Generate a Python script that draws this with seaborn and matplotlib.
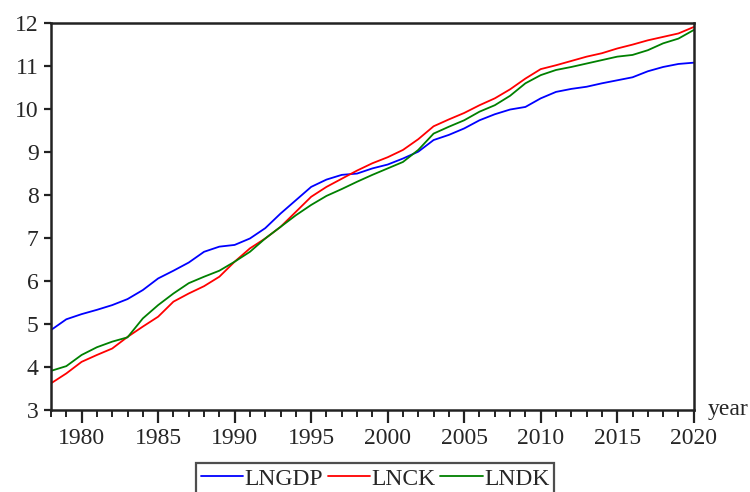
import numpy as np
import pandas as pd
import matplotlib
matplotlib.use("Agg")
import matplotlib.pyplot as plt
import seaborn as sns

years = list(range(1978, 2021))

lngdp = [4.86, 5.11, 5.23, 5.33, 5.44, 5.58, 5.79, 6.06, 6.24, 6.43,
         6.68, 6.80, 6.84, 6.99, 7.23, 7.57, 7.88, 8.19, 8.36, 8.47,
         8.50, 8.62, 8.71, 8.85, 9.01, 9.28, 9.40, 9.55, 9.74, 9.88,
         9.99, 10.05, 10.25, 10.40, 10.47, 10.52, 10.60, 10.67, 10.74, 10.88,
         10.98, 11.05, 11.08]
lnck = [3.62, 3.85, 4.12, 4.28, 4.43, 4.70, 4.94, 5.17, 5.52, 5.71,
        5.88, 6.10, 6.45, 6.76, 6.99, 7.26, 7.61, 7.96, 8.19, 8.38,
        8.57, 8.74, 8.88, 9.05, 9.30, 9.60, 9.76, 9.91, 10.09, 10.25,
        10.46, 10.71, 10.93, 11.02, 11.12, 11.22, 11.30, 11.41, 11.50, 11.60,
        11.68, 11.76, 11.91]
lndk = [3.91, 4.02, 4.28, 4.46, 4.59, 4.69, 5.13, 5.44, 5.71, 5.95,
        6.10, 6.24, 6.45, 6.68, 6.99, 7.26, 7.53, 7.77, 7.98, 8.14,
        8.31, 8.47, 8.62, 8.77, 9.05, 9.43, 9.59, 9.74, 9.94, 10.09,
        10.31, 10.60, 10.79, 10.91, 10.98, 11.06, 11.14, 11.22, 11.26, 11.37,
        11.53, 11.64, 11.84]

series_names = ["LNGDP", "LNCK", "LNDK"]
colors = ["#0000ff", "#ff0000", "#008000"]

df = pd.DataFrame({"year": years, "LNGDP": lngdp, "LNCK": lnck, "LNDK": lndk})
long_df = df.melt(id_vars="year", var_name="series", value_name="value")

sns.set_style("ticks")
plt.rcParams["font.family"] = ["Liberation Serif", "DejaVu Serif"]

fig = plt.figure(figsize=(7.5, 4.92), dpi=100)
ax = fig.add_axes([0.068, 0.1667, 0.857, 0.7863])

sns.lineplot(data=long_df, x="year", y="value", hue="series",
             hue_order=series_names, palette=colors, linewidth=1.3, ax=ax)

ax.set_xlim(1978, 2020)
ax.set_ylim(3, 12)
ax.set_xticks(range(1980, 2021, 5))
ax.set_xticks(range(1978, 2021), minor=True)
ax.set_yticks(range(3, 13))
ax.tick_params(axis="both", which="major", labelsize=17, width=1.6, color="#222222")
ax.tick_params(axis="x", which="major", length=9, pad=4)
ax.tick_params(axis="x", which="minor", length=5, width=1.4, color="#222222")
ax.tick_params(axis="y", which="major", length=5, pad=4)
for s in ax.spines.values():
    s.set_linewidth(1.8)
    s.set_color("#222222")
ax.set_xlabel("")
ax.set_ylabel("")

fig.text(0.943, 0.168, "year", fontsize=17, ha="left", va="center")

handles, labels = ax.get_legend_handles_labels()
ax.legend_.remove()
leg = fig.legend(handles, labels, loc="upper center", bbox_to_anchor=(0.5, 0.058),
                 ncol=3, fontsize=17, frameon=True, fancybox=False,
                 handlelength=1.8, handletextpad=0.05, columnspacing=0.2,
                 borderpad=0.2, borderaxespad=0)
leg.get_frame().set_edgecolor("#222222")
leg.get_frame().set_linewidth(1.6)

fig.savefig("out.png", dpi=100)
